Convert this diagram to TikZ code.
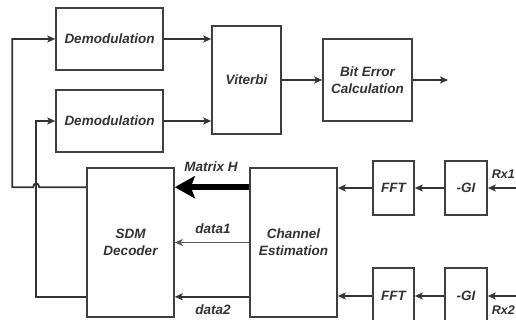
\documentclass[tikz,border=0pt]{standalone}
\usepackage{fontspec}
\setmainfont{Liberation Sans}
\usetikzlibrary{arrows.meta}
\tikzset{
  blk/.style={draw=black!75, line width=1.6pt, fill=white, align=center, inner sep=1pt,
    font=\fontsize{13.5}{17}\selectfont\bfseries\itshape, text=black!80},
  lbl/.style={font=\fontsize{13.5}{17}\selectfont\bfseries\itshape, text=black!80, inner sep=1pt},
  arr/.style={draw=black!80, line width=1.8pt, -{Stealth[length=8pt,width=7pt,inset=2pt]}},
  thinarr/.style={draw=black!65, line width=1.1pt, -{Stealth[length=8pt,width=7pt,inset=2pt]}},
  fatarr/.style={draw=black, line width=6pt, -{Stealth[length=20pt,width=22pt,inset=4pt]}},
}
\begin{document}
\begin{tikzpicture}[x=1pt, y=-1pt]
  \useasboundingbox (0,0) rectangle (516,320);
  \clip (0,0) rectangle (516,320);

  % processing blocks
  \node[blk, minimum width=107pt, minimum height=62pt] (dem1) at (109.5,39) {Demodulation};
  \node[blk, minimum width=107pt, minimum height=62pt] (dem2) at (109.5,121) {Demodulation};
  \node[blk, minimum width=69pt, minimum height=108pt] (vit) at (246.5,80) {Viterbi};
  \node[blk, minimum width=89pt, minimum height=82pt] (ber) at (367.5,80) {Bit Error\\Calculation};
  \node[blk, minimum width=87pt, minimum height=149pt] (sdm) at (130.5,242.5) {SDM\\Decoder};
  \node[blk, minimum width=87pt, minimum height=149pt] (ce) at (293.5,242.5) {Channel\\Estimation};
  \node[blk, minimum width=41pt, minimum height=54pt] (fft1) at (393.5,188) {FFT};
  \node[blk, minimum width=42pt, minimum height=54pt] (gi1) at (466,188) {-GI};
  \node[blk, minimum width=41pt, minimum height=56pt] (fft2) at (393.5,296) {FFT};
  \node[blk, minimum width=42pt, minimum height=56pt] (gi2) at (466,296) {-GI};

  % receive inputs
  \coordinate (rx1) at (516,188);
  \coordinate (rx2) at (516,296);
  \node[lbl, anchor=east, font=\fontsize{12.5}{15}\selectfont\bfseries\itshape] (rx1l) at (516,174) {Rx1};
  \node[lbl, anchor=east, font=\fontsize{12.5}{15}\selectfont\bfseries\itshape] (rx2l) at (516,310) {Rx2};

  \draw[arr] (rx1) -- (gi1.east);
  \draw[arr] (rx2) -- (gi2.east);
  \draw[arr] (gi1.west) -- (fft1.east);
  \draw[arr] (gi2.west) -- (fft2.east);
  \draw[arr] (fft1.west) -- (fft1.west -| ce.east);
  \draw[arr] (fft2.west) -- (fft2.west -| ce.east);

  % channel estimation to decoder
  \draw[fatarr] ([yshift=-20pt]ce.north west) -- ([yshift=-20pt]sdm.north east);
  \draw[thinarr] (ce.west) -- (sdm.east);
  \draw[arr] ([yshift=21pt]ce.south west) -- ([yshift=21pt]sdm.south east);
  \node[lbl] (mh) at (211,167) {Matrix H};
  \node[lbl] (d1) at (213,229) {data1};
  \node[lbl] (d2) at (213,310) {data2};

  % decoder outputs back to demodulators
  \draw[arr] ([yshift=-20pt]sdm.north west) -- ++(-47,0)
     .. controls +(0,-5) and +(0,-5) .. ++(-6,0)
     -| ([xshift=-43pt]dem1.west) -- (dem1.west);
  \draw[arr] ([yshift=21pt]sdm.south west) -| ([xshift=-19pt]dem2.west) -- (dem2.west);

  % demodulators to Viterbi to BER
  \draw[arr] (dem1.east) -- (dem1.east -| vit.west);
  \draw[arr] (dem2.east) -- (dem2.east -| vit.west);
  \draw[arr] (vit.east) -- (ber.west);
  \coordinate (out) at (448,80);
  \draw[arr] (ber.east) -- (out);
\end{tikzpicture}
\end{document}
